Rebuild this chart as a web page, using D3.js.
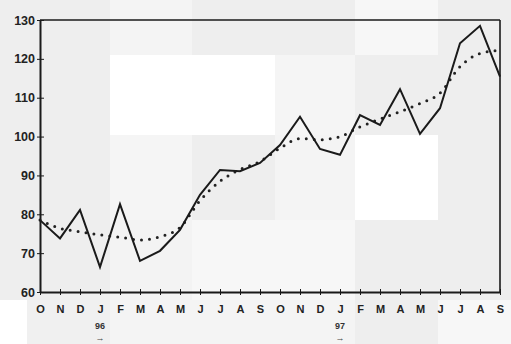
<!DOCTYPE html>
<html>
<head>
<meta charset="utf-8">
<script src="https://cdn.jsdelivr.net/npm/d3@7"></script>
<style>
html,body{margin:0;padding:0;background:#fff;}
svg{display:block;}
text{font-family:"Liberation Sans",Arial,sans-serif;}
</style>
</head>
<body>
<svg id="chart" width="511" height="344"></svg>
<script>
const months = ["O","N","D","J","F","M","A","M","J","J","A","S","O","N","D","J","F","M","A","M","J","J","A","S"];
const yearLabels = [{index:3, label:"96"},{index:15, label:"97"}];
const actual = [78.5,73.8,81.1,66.4,82.6,68,70.6,76,85,91.4,91.1,93.2,97.8,105.1,96.8,95.3,105.5,103,112.2,100.7,107.3,124,128.5,115.4];
const trend = [78.5,76.4,75.5,74.7,74.1,73.4,74.2,76.6,83.5,88.5,91.5,93.6,97,99.5,99.2,100,102.5,104.5,106.4,108.5,111.2,118,121.4,122.2];
const yTicks = [60,70,80,90,100,110,120,130];

(function(){
const svg = d3.select("#chart");

// scanned-paper background blocks
const colEdges = [0,27,110,192,275,355,438,511];
const rowEdges = [0,55,135,220,300,344];
const shades = [
  ["#eeeeee","#eeeeee","#f4f4f4","#eeeeee","#eeeeee","#f7f7f7","#eeeeee"],
  ["#eeeeee","#eeeeee","#ffffff","#ffffff","#f5f5f5","#eeeeee","#eeeeee"],
  ["#eeeeee","#eeeeee","#f5f5f5","#eeeeee","#f4f4f4","#ffffff","#eeeeee"],
  ["#eeeeee","#eeeeee","#f3f3f3","#f7f7f7","#f7f7f7","#eeeeee","#eeeeee"],
  ["#ffffff","#f0f0f0","#f4f4f4","#f4f4f4","#f4f4f4","#eeeeee","#f7f7f7"]
];
const bg = svg.append("g");
shades.forEach((row,ri)=>row.forEach((c,ci)=>{
  bg.append("rect").attr("x",colEdges[ci]).attr("y",rowEdges[ri])
    .attr("width",colEdges[ci+1]-colEdges[ci]).attr("height",rowEdges[ri+1]-rowEdges[ri])
    .attr("fill",c);
}));

const mL = 40, mR = 500, mT = 20, mB = 292;
const x = d3.scaleLinear().domain([0, months.length-1]).range([mL, mR]);
const y = d3.scaleLinear().domain([60,130]).range([mB, mT]);
const ink = "#1a1a1a";

// frame (top and right)
svg.append("line").attr("x1",mL).attr("x2",mR).attr("y1",mT).attr("y2",mT)
  .attr("stroke",ink).attr("stroke-width",1.6);
svg.append("line").attr("x1",mR).attr("x2",mR).attr("y1",mT).attr("y2",mB)
  .attr("stroke",ink).attr("stroke-width",1.6);

// Y axis
const yAxis = d3.axisLeft(y).tickValues(yTicks).tickSize(0).tickPadding(5);
const gy = svg.append("g").attr("transform",`translate(${mL},0)`).call(yAxis);
gy.select(".domain").attr("stroke",ink).attr("stroke-width",2);
gy.selectAll("text").attr("font-size",12.5).attr("font-weight","bold").attr("fill","#222");
gy.selectAll(".tick").append("line").attr("x1",-3).attr("x2",4).attr("stroke",ink).attr("stroke-width",1);

// X axis
const xAxis = d3.axisBottom(x).tickValues(d3.range(months.length)).tickFormat(i=>months[i]).tickSize(0).tickPadding(13);
const gx = svg.append("g").attr("transform",`translate(0,${mB})`).call(xAxis);
gx.select(".domain").attr("stroke",ink).attr("stroke-width",2);
gx.selectAll("text").attr("font-size",11).attr("font-weight","bold").attr("fill","#222");
gx.selectAll(".tick").append("line").attr("y1",-3).attr("y2",3).attr("stroke",ink).attr("stroke-width",1);

// year labels
svg.selectAll("text.year").data(yearLabels).enter().append("text")
  .attr("class","year").attr("x",d=>x(d.index)).attr("y",329)
  .attr("text-anchor","middle").attr("font-size",9).attr("font-weight","bold").attr("fill","#333")
  .text(d=>d.label);
svg.selectAll("text.arrow").data(yearLabels).enter().append("text")
  .attr("class","arrow").attr("x",d=>x(d.index)).attr("y",341)
  .attr("text-anchor","middle").attr("font-size",9).attr("font-weight","bold").attr("fill","#444")
  .text("→");

// trend (dotted)
const trendLine = d3.line().x((d,i)=>x(i)).y(d=>y(d)).curve(d3.curveMonotoneX);
svg.append("path").datum(trend).attr("d",trendLine)
  .attr("fill","none").attr("stroke","#222").attr("stroke-width",3)
  .attr("stroke-linecap","round").attr("stroke-dasharray","0,8");

// actual (solid)
const actLine = d3.line().x((d,i)=>x(i)).y(d=>y(d));
svg.append("path").datum(actual).attr("d",actLine)
  .attr("fill","none").attr("stroke",ink).attr("stroke-width",2)
  .attr("stroke-linejoin","miter");
})();
</script>
</body>
</html>
